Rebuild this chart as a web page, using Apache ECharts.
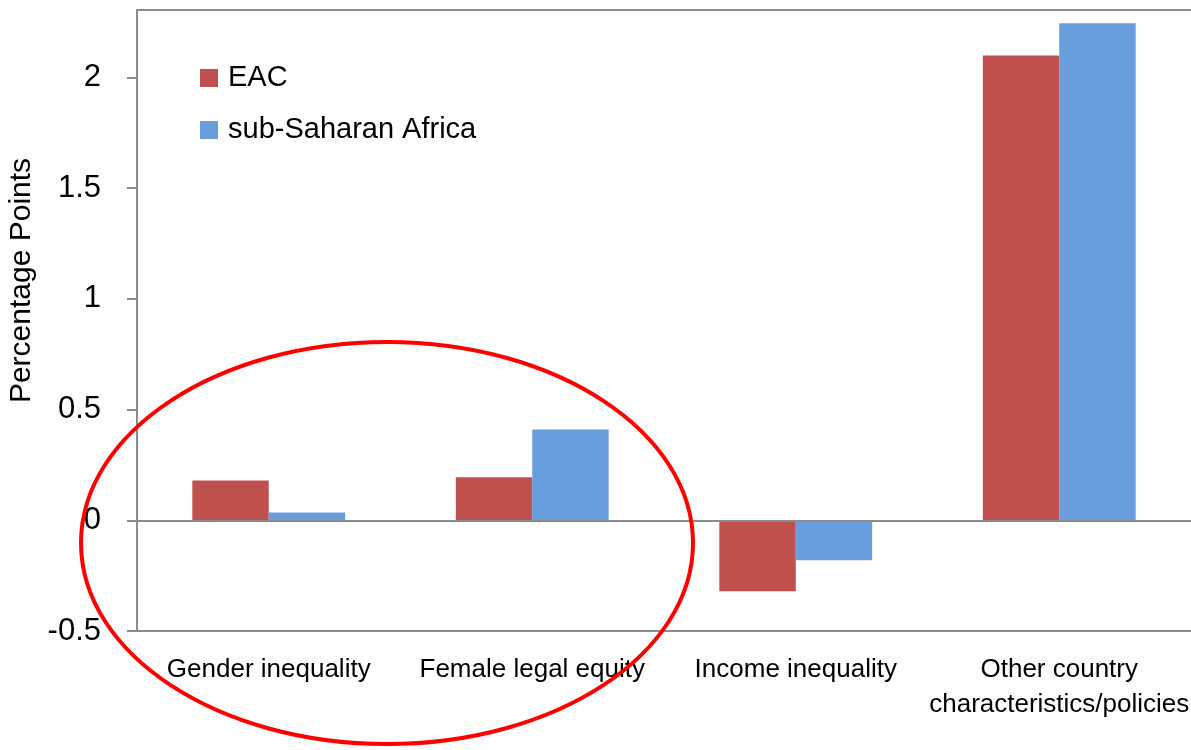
<!DOCTYPE html>
<html>
<head>
<meta charset="utf-8">
<script src="https://cdn.jsdelivr.net/npm/echarts@6/dist/echarts.min.js"></script>
<style>
  html, body { margin: 0; padding: 0; background: #fff; }
  #main { width: 1191px; height: 750px; }
</style>
</head>
<body>
<div id="main"></div>
<script>
var categories = ['Gender inequality', 'Female legal equity', 'Income inequality', 'Other country\ncharacteristics/policies'];
var eacValues = [0.18, 0.195, -0.32, 2.1];
var ssaValues = [0.035, 0.41, -0.18, 2.245];
var yTicks = [-0.5, 0, 0.5, 1, 1.5, 2];

var font = '"Liberation Sans", Arial, sans-serif';
var axisGray = '#8c8c8c';

var myChart = echarts.init(document.getElementById('main'));
myChart.setOption({
  animation: false,
  textStyle: { fontFamily: font },
  grid: { left: 137, right: 0, top: 10, bottom: 119, outerBoundsMode: 'none', containLabel: false },
  legend: {
    orient: 'vertical',
    left: 195,
    top: 56,
    itemWidth: 18,
    itemHeight: 18,
    itemGap: 18,
    icon: 'rect',
    textStyle: { fontFamily: font, fontSize: 29, color: '#000', lineHeight: 34, padding: [0, 0, 0, 5] },
    data: ['EAC', 'sub-Saharan Africa']
  },
  xAxis: [{
    type: 'category',
    data: categories,
    position: 'bottom',
    axisLine: { onZero: false, lineStyle: { color: axisGray, width: 2 } },
    axisTick: { show: false },
    axisLabel: { fontFamily: font, fontSize: 26, color: '#000', margin: 21, lineHeight: 35, interval: 0 }
  }, {
    type: 'category',
    data: categories,
    position: 'top',
    axisLine: { onZero: false, lineStyle: { color: axisGray, width: 2 } },
    axisTick: { show: false },
    axisLabel: { show: false }
  }],
  yAxis: {
    type: 'value',
    min: -0.5,
    max: 2.305,
    interval: 0.5,
    name: 'Percentage Points',
    nameLocation: 'middle',
    nameGap: 92,
    nameTextStyle: { fontFamily: font, fontSize: 30, color: '#000', padding: [0, 0, 0, 80] },
    axisLine: { show: true, lineStyle: { color: axisGray, width: 2 } },
    axisTick: { show: true, length: 10, lineStyle: { color: axisGray, width: 2 } },
    splitLine: { show: false },
    axisLabel: {
      fontFamily: font, fontSize: 31, color: '#000', margin: 36,
      showMaxLabel: false,
      formatter: function (v) { return yTicks.indexOf(v) >= 0 ? String(v) : ''; }
    }
  },
  series: [{
    name: 'EAC',
    type: 'bar',
    data: eacValues,
    barGap: '0%',
    barCategoryGap: '42%',
    itemStyle: { color: '#C0504D' },
    markLine: {
      silent: true,
      symbol: 'none',
      label: { show: false },
      lineStyle: { color: axisGray, width: 2, type: 'solid' },
      data: [{ yAxis: 0 }]
    }
  }, {
    name: 'sub-Saharan Africa',
    type: 'bar',
    data: ssaValues,
    itemStyle: { color: '#699EDC' }
  }],
  graphic: [{
    type: 'ellipse',
    shape: { cx: 387, cy: 543, rx: 306, ry: 201 },
    style: { fill: 'none', stroke: '#ff0000', lineWidth: 4 },
    z: 100
  }]
});
</script>
</body>
</html>
